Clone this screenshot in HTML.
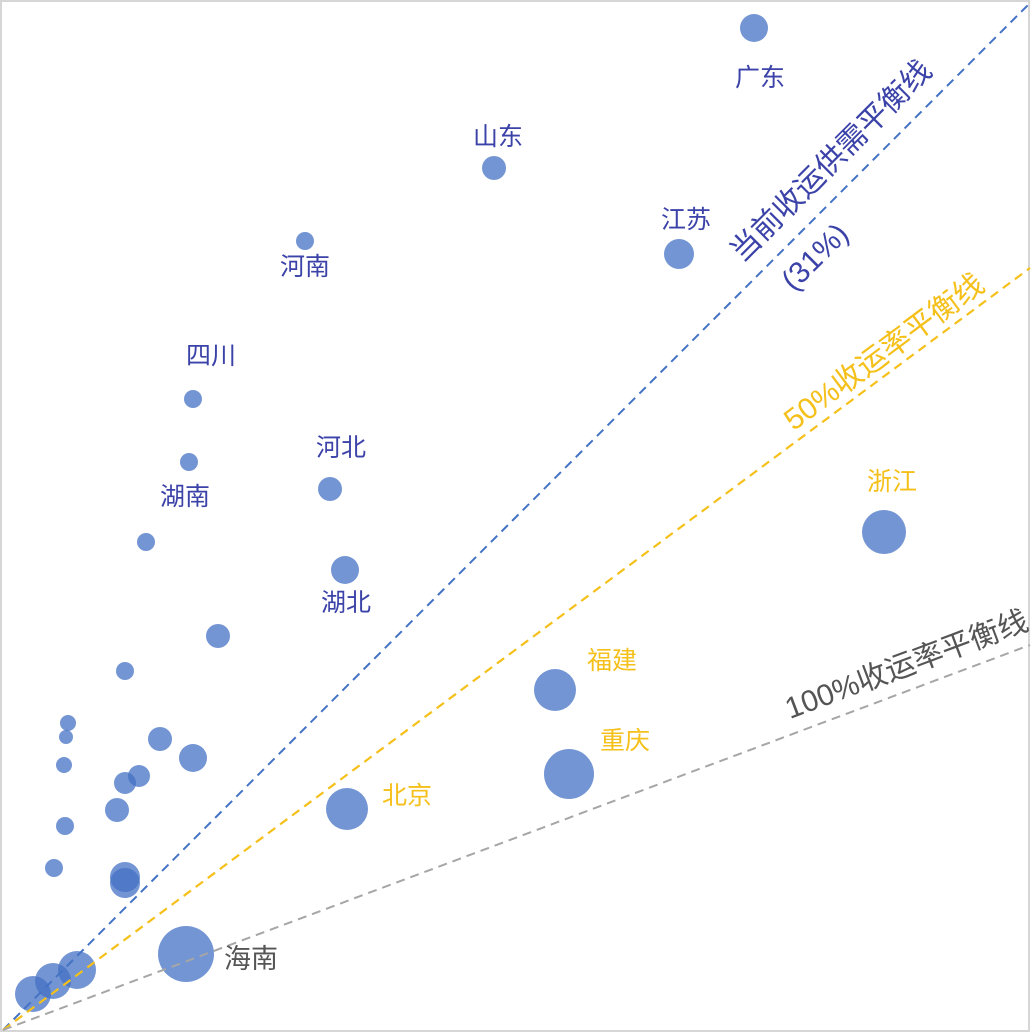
<!DOCTYPE html>
<html><head><meta charset="utf-8"><style>
html,body{margin:0;padding:0;background:#fff;}
svg{display:block;}
text{font-family:"Liberation Sans","Noto Sans CJK SC",sans-serif;}
</style></head><body>
<svg width="1032" height="1034" viewBox="0 0 1032 1034" xmlns="http://www.w3.org/2000/svg">
<rect x="1" y="1" width="1028" height="1030" fill="#fff" stroke="#d6d6d6" stroke-width="2"/>
<g fill="#4472c4" fill-opacity="0.75">
<circle cx="754" cy="28" r="14"/>
<circle cx="494" cy="168" r="12"/>
<circle cx="305" cy="241" r="9"/>
<circle cx="679" cy="254" r="15"/>
<circle cx="193" cy="399" r="9"/>
<circle cx="189" cy="462" r="9"/>
<circle cx="330" cy="489" r="12"/>
<circle cx="345" cy="570" r="14"/>
<circle cx="884" cy="532" r="22"/>
<circle cx="146" cy="542" r="9"/>
<circle cx="218" cy="636" r="12"/>
<circle cx="125" cy="671" r="9"/>
<circle cx="68" cy="723" r="8"/>
<circle cx="66" cy="737" r="7"/>
<circle cx="64" cy="765" r="8"/>
<circle cx="160" cy="739" r="12"/>
<circle cx="193" cy="758" r="14"/>
<circle cx="139" cy="776" r="11"/>
<circle cx="125" cy="783" r="11"/>
<circle cx="117" cy="810" r="12"/>
<circle cx="347" cy="809" r="21"/>
<circle cx="65" cy="826" r="9"/>
<circle cx="555" cy="690" r="21"/>
<circle cx="569" cy="774" r="25"/>
<circle cx="54" cy="868" r="9"/>
<circle cx="125" cy="877" r="15"/>
<circle cx="125" cy="883" r="15"/>
<circle cx="186" cy="954" r="28"/>
<circle cx="77" cy="970" r="19"/>
<circle cx="53" cy="981" r="18"/>
<circle cx="33" cy="994" r="18"/>
</g>
<line x1="3" y1="1030" x2="1028" y2="5" stroke="#4472c4" stroke-width="2" stroke-dasharray="9,6"/>
<line x1="3" y1="1030" x2="1030" y2="268" stroke="#f5c01a" stroke-width="2.2" stroke-dasharray="9,6"/>
<line x1="3" y1="1030" x2="1030" y2="645" stroke="#a6a6a6" stroke-width="2" stroke-dasharray="9,6"/>
<g font-size="25" fill="#3b42a8" text-anchor="middle">
<text x="760" y="86">广东</text>
<text x="498" y="145">山东</text>
<text x="305" y="275">河南</text>
<text x="686" y="228">江苏</text>
<text x="211" y="364">四川</text>
<text x="341" y="456">河北</text>
<text x="185" y="505">湖南</text>
<text x="346" y="611">湖北</text>
</g>
<g font-size="25" fill="#f5c01a" text-anchor="middle">
<text x="892" y="490">浙江</text>
<text x="612" y="669">福建</text>
<text x="625" y="749">重庆</text>
<text x="407" y="804">北京</text>
</g>
<text x="251" y="968" font-size="27" fill="#555" text-anchor="middle">海南</text>
<text transform="translate(838,168) rotate(-45)" font-size="30" fill="#3b42a8" text-anchor="middle">当前收运供需平衡线</text>
<text transform="translate(822,264) rotate(-45)" font-size="30" fill="#3b42a8" text-anchor="middle">(31%)</text>
<text transform="translate(890,360) rotate(-36.6)" font-size="30" fill="#f5c01a" text-anchor="middle">50%收运率平衡线</text>
<text transform="translate(910,674) rotate(-20.6)" font-size="30" fill="#555" text-anchor="middle">100%收运率平衡线</text>
</svg>
</body></html>
